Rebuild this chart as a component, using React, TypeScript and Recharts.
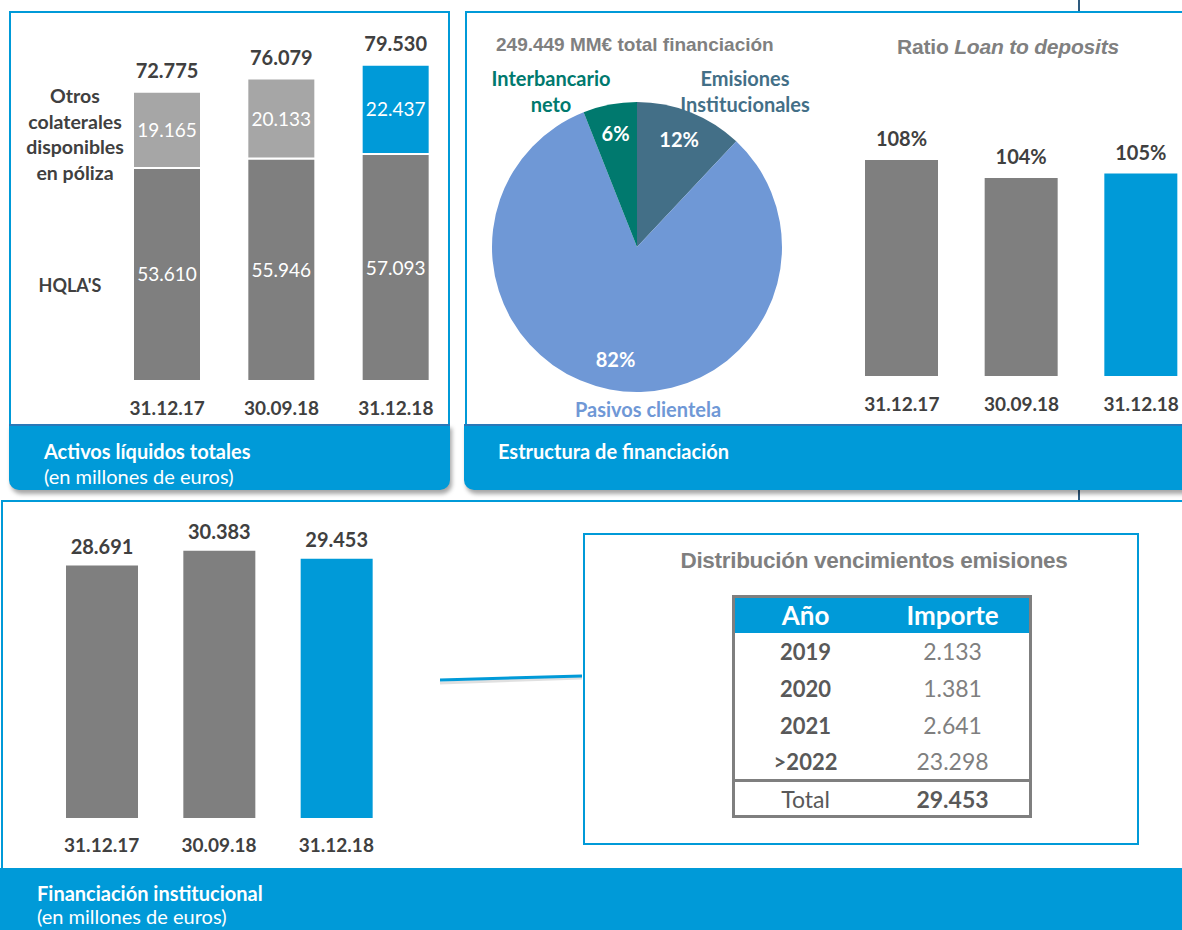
import React from "react";
import { BarChart, Bar, XAxis, YAxis, LabelList, Cell, PieChart, Pie } from "recharts";

const FONT = "Lato, 'Open Sans', sans-serif";
const ARIAL = "'Liberation Sans', Arial, sans-serif";
const BLUE = "#009ad8";
const DARK = "#7f7f7f";
const LIGHT = "#a6a6a6";
const TEXT = "#404040";

// Activos líquidos (millones de euros)
const dates = ["31.12.17", "30.09.18", "31.12.18"];
const hqla = [53610, 55946, 57093];
const otros = [19165, 20133, 22437];

// Estructura de financiación (%)
const fundingNames = ["Emisiones Institucionales", "Pasivos clientela", "Interbancario neto"];
const fundingShares = [12, 82, 6];
const fundingColors = ["#436f87", "#6f98d6", "#00796e"];

// Ratio loan to deposits (%)
const ltdRatio = [108, 104, 105];

// Financiación institucional (millones de euros)
const instFunding = [28691, 30383, 29453];

// Vencimientos emisiones
const maturityYears = ["2019", "2020", "2021", ">2022"];
const maturityAmounts = [2133, 1381, 2641, 23298];

const fmt = (n: number) => String(n).replace(/\B(?=(\d{3})+(?!\d))/g, ".");

const liquidityData = dates.map((d, i) => ({ date: d, hqla: hqla[i], otros: otros[i], total: hqla[i] + otros[i] }));
const fundingData = fundingNames.map((n, i) => ({ name: n, value: fundingShares[i] }));
const ltdData = dates.map((d, i) => ({ date: d, value: ltdRatio[i] }));
const instData = dates.map((d, i) => ({ date: d, value: instFunding[i] }));
const barColors = [DARK, DARK, BLUE];

function box(p: any) {
  const vb = p.viewBox || {};
  return { x: p.x ?? vb.x, y: p.y ?? vb.y, w: p.width ?? vb.width, h: p.height ?? vb.height };
}

const topLabel = (format: (v: number) => string, gap: number) => (p: any) => {
  const { x, y, w } = box(p);
  return (
    <text x={x + w / 2} y={y - gap} textAnchor="middle" fill={TEXT} fontFamily={FONT} fontWeight={700} fontSize={20}>
      {format(p.value)}
    </text>
  );
};

const centerLabel = (p: any) => {
  const { x, y, w, h } = box(p);
  return (
    <text x={x + w / 2} y={y + h / 2 + 7} textAnchor="middle" fill="#fff" fontFamily={FONT} fontSize={19}>
      {fmt(p.value)}
    </text>
  );
};

const dateTick = (dy: number) => (p: any) => (
  <text x={p.x} y={p.y + dy} textAnchor="middle" fill={TEXT} fontFamily={FONT} fontWeight={700} fontSize={19}>
    {p.payload.value}
  </text>
);

const pieLabel = (p: any) => {
  const RAD = Math.PI / 180;
  const r = p.outerRadius * 0.79;
  const x = p.cx + r * Math.cos(-p.midAngle * RAD);
  const y = p.cy + r * Math.sin(-p.midAngle * RAD);
  return (
    <text x={x} y={y + 7} textAnchor="middle" fill="#fff" fontFamily={FONT} fontWeight={700} fontSize={20}>
      {Math.round(p.percent * 100)}%
    </text>
  );
};

const abs = (s: React.CSSProperties): React.CSSProperties => ({ position: "absolute", ...s });

export default function App() {
  return (
    <div style={abs({ left: 0, top: 0, width: 1182, height: 930, overflow: "hidden", background: "#fff", fontFamily: FONT })}>
      {/* fondo: línea vertical */}
      <div style={abs({ left: 1078, top: 0, width: 2, height: 500, background: "#2e5a7e" })} />

      {/* Panel 1 */}
      <div style={abs({ left: 9, top: 11, width: 437, height: 412, border: `2px solid ${BLUE}`, background: "#fff" })} />
      <div style={abs({ left: 20, top: 83, width: 110, textAlign: "center", fontSize: 19.5, fontWeight: 700, color: TEXT, lineHeight: "25.7px" })}>
        Otros<br />colaterales<br />disponibles<br />en póliza
      </div>
      <div style={abs({ left: 20, top: 272, width: 100, textAlign: "center", fontSize: 18, fontWeight: 700, color: TEXT, lineHeight: "26px" })}>
        HQLA'S
      </div>
      <div style={abs({ left: 0, top: 0 })}>
        <BarChart width={460} height={430} data={liquidityData} margin={{ top: 63, left: 110, right: 7, bottom: 19 }} barSize={68}>
          <XAxis dataKey="date" axisLine={false} tickLine={false} tickSize={0} tickMargin={0} height={30} tick={dateTick(34)} interval={0} />
          <YAxis hide domain={[0, 80000]} />
          <Bar dataKey="hqla" stackId="a" fill={DARK} stroke="#fff" strokeWidth={2} isAnimationActive={false}>
            <LabelList dataKey="hqla" content={centerLabel} />
          </Bar>
          <Bar dataKey="otros" stackId="a" stroke="#fff" strokeWidth={2} isAnimationActive={false}>
            {liquidityData.map((d, i) => (
              <Cell key={d.date} fill={i === 2 ? BLUE : LIGHT} />
            ))}
            <LabelList dataKey="otros" content={centerLabel} />
            <LabelList dataKey="total" content={topLabel(fmt, 14)} />
          </Bar>
        </BarChart>
      </div>
      <div style={abs({ left: 9, top: 424, width: 441, height: 64, background: BLUE, borderTop: "2px solid #2a78b8", borderRadius: "0 0 10px 10px", boxShadow: "2px 4px 4px rgba(0,0,0,0.35)", color: "#fff", fontSize: 20 })}>
        <div style={abs({ left: 35, top: 13, lineHeight: "25px" })}>
          <b>Activos líquidos totales</b>
          <br />
          (en millones de euros)
        </div>
      </div>

      {/* Panel 2 */}
      <div style={abs({ left: 465, top: 11, width: 730, height: 412, border: `2px solid ${BLUE}`, background: "#fff" })} />
      <div style={abs({ left: 496, top: 34, fontFamily: ARIAL, fontWeight: 700, fontSize: 19, color: "#808080", lineHeight: "22px" })}>
        249.449 MM€ total financiación
      </div>
      <div style={abs({ left: 858, top: 35, width: 300, textAlign: "center", fontFamily: ARIAL, fontWeight: 700, fontSize: 21, color: "#808080", lineHeight: "24px", letterSpacing: -0.2 })}>
        Ratio <i>Loan to deposits</i>
      </div>
      <div style={abs({ left: 476, top: 65, width: 150, textAlign: "center", fontSize: 20, fontWeight: 700, color: fundingColors[2], lineHeight: "26px" })}>
        Interbancario<br />neto
      </div>
      <div style={abs({ left: 660, top: 65, width: 170, textAlign: "center", fontSize: 20, fontWeight: 700, color: fundingColors[0], lineHeight: "26px" })}>
        Emisiones<br />Institucionales
      </div>
      <div style={abs({ left: 563, top: 396, width: 170, textAlign: "center", fontSize: 20, fontWeight: 700, color: fundingColors[1], lineHeight: "26px" })}>
        Pasivos clientela
      </div>
      <div style={abs({ left: 470, top: 20 })}>
        <PieChart width={340} height={400} margin={{ top: 0, right: 0, bottom: 0, left: 0 }}>
          <Pie
            data={fundingData}
            dataKey="value"
            nameKey="name"
            cx={167}
            cy={227}
            outerRadius={145}
            startAngle={90}
            endAngle={-270}
            stroke="none"
            label={pieLabel}
            labelLine={false}
            isAnimationActive={false}
          >
            {fundingData.map((d, i) => (
              <Cell key={d.name} fill={fundingColors[i]} />
            ))}
          </Pie>
        </PieChart>
      </div>
      <div style={abs({ left: 832, top: 20 })}>
        <BarChart width={379} height={420} data={ltdData} margin={{ top: 86, left: 10, right: 10, bottom: 34 }} barSize={73}>
          <XAxis dataKey="date" axisLine={false} tickLine={false} tickSize={0} tickMargin={0} height={30} tick={dateTick(35)} interval={0} />
          <YAxis hide domain={[60, 120]} />
          <Bar dataKey="value" isAnimationActive={false}>
            {ltdData.map((d, i) => (
              <Cell key={d.date} fill={barColors[i]} />
            ))}
            <LabelList dataKey="value" content={topLabel((v) => `${v}%`, 14)} />
          </Bar>
        </BarChart>
      </div>
      <div style={abs({ left: 464, top: 424, width: 730, height: 64, background: BLUE, borderTop: "2px solid #2a78b8", borderRadius: "0 0 10px 10px", boxShadow: "2px 4px 4px rgba(0,0,0,0.35)", color: "#fff", fontSize: 20 })}>
        <div style={abs({ left: 34, top: 13, lineHeight: "25px", fontWeight: 700 })}>Estructura de financiación</div>
      </div>

      {/* Panel 3 */}
      <div style={abs({ left: 1, top: 500, width: 1200, height: 440, borderLeft: `2px solid ${BLUE}`, borderTop: `2px solid ${BLUE}`, background: "#fff" })} />
      <div style={abs({ left: 33, top: 500 })}>
        <BarChart width={372} height={360} data={instData} margin={{ top: 10, left: 10, right: 10, bottom: 12 }} barSize={72}>
          <XAxis dataKey="date" axisLine={false} tickLine={false} tickSize={0} tickMargin={0} height={30} tick={dateTick(34)} interval={0} />
          <YAxis hide domain={[0, 35000]} />
          <Bar dataKey="value" isAnimationActive={false}>
            {instData.map((d, i) => (
              <Cell key={d.date} fill={barColors[i]} />
            ))}
            <LabelList dataKey="value" content={topLabel(fmt, 12)} />
          </Bar>
        </BarChart>
      </div>
      <svg style={abs({ left: 440, top: 668, overflow: "visible" })} width={145} height={20}>
        <line x1={0} y1={15} x2={142} y2={10} stroke="rgba(0,0,0,0.12)" strokeWidth={3} />
        <line x1={0} y1={12} x2={142} y2={8} stroke={BLUE} strokeWidth={3} />
      </svg>
      <div style={abs({ left: 583, top: 533, width: 552, height: 308, border: `2px solid ${BLUE}`, background: "#fff" })} />
      <div style={abs({ left: 574, top: 548, width: 600, textAlign: "center", fontFamily: ARIAL, fontWeight: 700, fontSize: 22.5, color: "#7f7f7f", lineHeight: "26px", letterSpacing: -0.3 })}>
        Distribución vencimientos emisiones
      </div>
      <table
        style={abs({ left: 732, top: 595, width: 300, borderCollapse: "collapse", border: "3px solid #7f7f7f", fontFamily: FONT, color: "#595959", fontSize: 22 })}
      >
        <thead>
          <tr style={{ background: BLUE, color: "#fff", height: 36 }}>
            <th style={{ fontSize: 26, fontWeight: 700, width: "48%", padding: 0 }}>Año</th>
            <th style={{ fontSize: 26, fontWeight: 700, padding: 0 }}>Importe</th>
          </tr>
        </thead>
        <tbody>
          {maturityYears.map((y, i) => (
            <tr key={y} style={{ height: 37 }}>
              <td style={{ textAlign: "center", fontWeight: 700, padding: 0 }}>{y}</td>
              <td style={{ textAlign: "center", color: "#7f7f7f", fontSize: 23, padding: 0 }}>{fmt(maturityAmounts[i])}</td>
            </tr>
          ))}
          <tr style={{ height: 36, borderTop: "3px solid #7f7f7f" }}>
            <td style={{ textAlign: "center", color: "#595959", fontSize: 23, padding: 0 }}>Total</td>
            <td style={{ textAlign: "center", fontWeight: 700, color: "#595959", fontSize: 23, padding: 0 }}>
              {fmt(maturityAmounts.reduce((a, b) => a + b, 0))}
            </td>
          </tr>
        </tbody>
      </table>
      <div style={abs({ left: 0, top: 868, width: 1182, height: 62, background: BLUE, color: "#fff", fontSize: 20 })}>
        <div style={abs({ left: 37, top: 14, lineHeight: "23px" })}>
          <b>Financiación institucional</b>
          <br />
          (en millones de euros)
        </div>
      </div>
    </div>
  );
}
